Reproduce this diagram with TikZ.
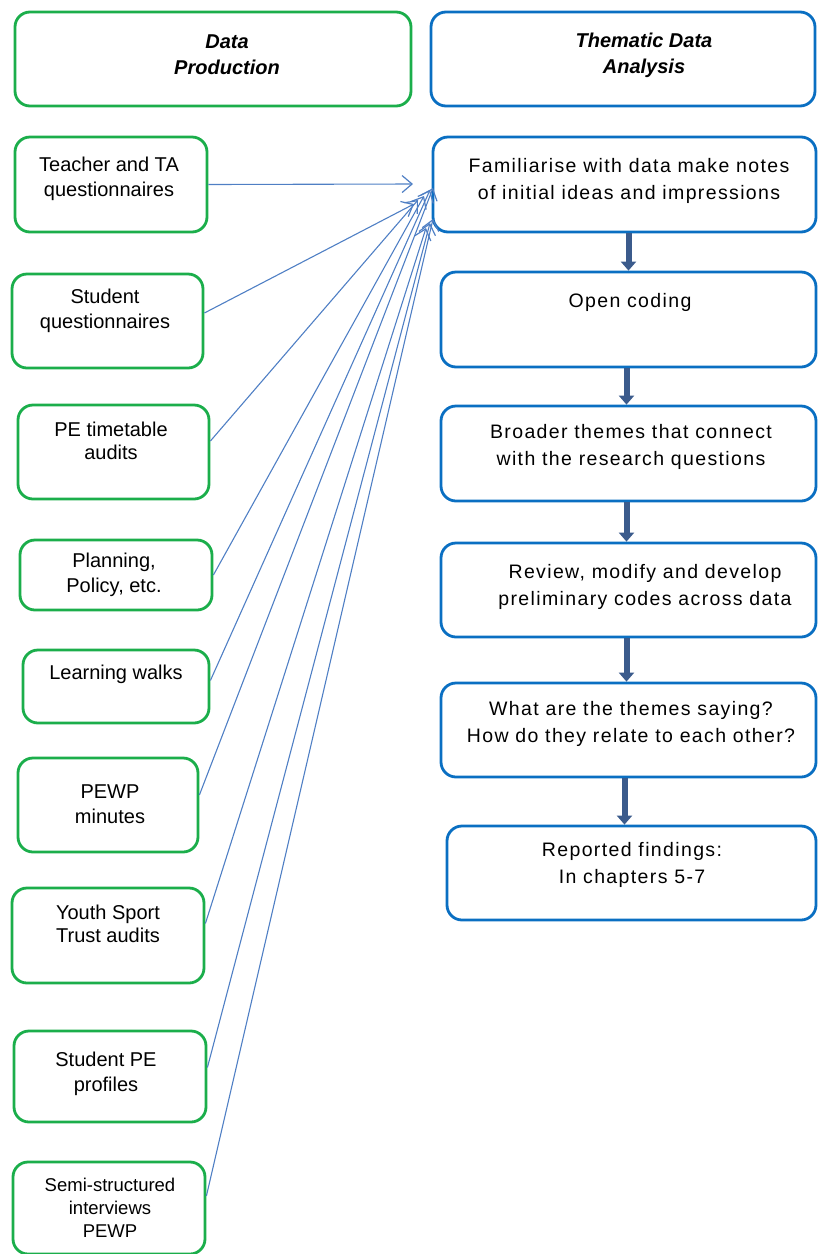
\documentclass[tikz,border=0pt]{standalone}
\usepackage{fontspec}
\setmainfont{Liberation Sans}
\newfontfamily\spacedfont[LetterSpace=7]{Liberation Sans}
\usetikzlibrary{arrows.meta}
\definecolor{srcgreen}{HTML}{1BAE4B}
\definecolor{stepblue}{HTML}{0A6FC2}
\definecolor{linkblue}{HTML}{4F7FC4}
\definecolor{flowblue}{HTML}{3B5B8C}
\begin{document}
\begin{tikzpicture}[x=1pt,y=-1pt,
  gbox/.style={draw=srcgreen,line width=2.8pt,rounded corners=15pt,inner sep=0pt,fill=white},
  bbox/.style={draw=stepblue,line width=2.8pt,rounded corners=15pt,inner sep=0pt,fill=white},
  srctext/.style={align=center,font=\fontsize{20}{25}\selectfont,inner sep=0pt},
  steptext/.style={align=center,font=\spacedfont\fontsize{19.5}{27}\selectfont,inner sep=0pt},
  headtext/.style={align=center,font=\bfseries\itshape\fontsize{20}{26}\selectfont,inner sep=0pt},
  link/.style={draw=linkblue,line width=1.1pt,-{Straight Barb[length=10pt,width=17pt,line width=1.2pt]}},
  flow/.style={draw=flowblue,line width=6pt,-{Triangle[length=9pt,width=15pt]}}]
\useasboundingbox (0,0) rectangle (818,1254);

% column headers
\node[gbox,minimum width=396pt,minimum height=94pt] (hdata) at (213,59) {};
\node[headtext] (hdatat) at (227,55) {Data\\Production};
\node[bbox,minimum width=384pt,minimum height=94pt] (hthem) at (623,59) {};
\node[headtext] (hthemt) at (644,55) {Thematic Data\\Analysis};

% data sources
\node[gbox,minimum width=192pt,minimum height=95pt] (s1) at (111,184.5) {};
\node[srctext] (s1t) at (109,179) {Teacher and TA\\questionnaires};
\node[gbox,minimum width=191pt,minimum height=94pt] (s2) at (107.5,321) {};
\node[srctext] (s2t) at (105,311) {Student\\questionnaires};
\node[gbox,minimum width=191pt,minimum height=94pt] (s3) at (113.5,452) {};
\node[srctext,font=\fontsize{20}{23}\selectfont] (s3t) at (111,441) {PE timetable\\audits};
\node[gbox,minimum width=192pt,minimum height=70pt] (s4) at (116,575) {};
\node[srctext] (s4t) at (114,575) {Planning,\\Policy, etc.};
\node[gbox,minimum width=186pt,minimum height=73pt] (s5) at (116,686.5) {};
\node[srctext] (s5t) at (116,674) {Learning walks};
\node[gbox,minimum width=180pt,minimum height=94pt] (s6) at (108,805) {};
\node[srctext] (s6t) at (110,804) {PEWP\\minutes};
\node[gbox,minimum width=192pt,minimum height=95pt] (s7) at (108,935.5) {};
\node[srctext,font=\fontsize{20}{23}\selectfont] (s7t) at (108,924) {Youth Sport\\Trust audits};
\node[gbox,minimum width=192pt,minimum height=91pt] (s8) at (110,1076.5) {};
\node[srctext] (s8t) at (106,1074) {Student PE\\profiles};
\node[gbox,minimum width=192pt,minimum height=92pt] (s9) at (109,1208) {};
\node[srctext,font=\fontsize{18.5}{23}\selectfont] (s9t) at (110,1208) {Semi-structured\\interviews\\PEWP};

% analysis steps
\node[bbox,minimum width=383pt,minimum height=95pt] (a1) at (624.5,184.5) {};
\node[steptext] (a1t) at (629,181) {Familiarise with data make notes\\of initial ideas and impressions};
\node[bbox,minimum width=375pt,minimum height=95pt] (a2) at (628.5,319.5) {};
\node[steptext] (a2t) at (630,302) {Open coding};
\node[bbox,minimum width=375pt,minimum height=95pt] (a3) at (628.5,453.5) {};
\node[steptext] (a3t) at (631,447) {Broader themes that connect\\with the research questions};
\node[bbox,minimum width=375pt,minimum height=94pt] (a4) at (628.5,590) {};
\node[steptext] (a4t) at (645,587) {Review, modify and develop\\preliminary codes across data};
\node[bbox,minimum width=375pt,minimum height=94pt] (a5) at (628.5,730) {};
\node[steptext] (a5t) at (631,724) {What are the themes saying?\\How do they relate to each other?};
\node[bbox,minimum width=369pt,minimum height=94pt] (a6) at (631.5,873) {};
\node[steptext] (a6t) at (632,865) {Reported findings:\\In chapters 5-7};

% end points of the source links along the first step
\coordinate (e1) at (413,184);
\coordinate (e2) at (414,204);
\coordinate (e3) at (418,200);
\coordinate (e4) at (424,196);
\coordinate (e5) at (430,190);
\coordinate (e6) at (433,188);
\coordinate (e7) at (426,228);
\coordinate (e8) at (430,223);
\coordinate (e9) at (433,219);

\draw[link] (s1.east) -- (e1);
\draw[link] ([yshift=8pt]s2.east) -- (e2);
\draw[link] ([yshift=11pt]s3.east) -- (e3);
\draw[link] (s4.east) -- (e4);
\draw[link] ([yshift=6pt]s5.east) -- (e5);
\draw[link] ([yshift=10pt]s6.east) -- (e6);
\draw[link] ([yshift=12pt]s7.east) -- (e7);
\draw[link] ([yshift=9pt]s8.east) -- (e8);
\draw[link] ([yshift=12pt]s9.east) -- (e9);

% flow between the analysis steps
\draw[flow] ([xshift=4pt]a1.south) -- ([xshift=4pt]a1.south |- a2.north);
\draw[flow] ([xshift=-2pt]a2.south) -- ([xshift=-2pt]a2.south |- a3.north);
\draw[flow] ([xshift=-2pt]a3.south) -- ([xshift=-2pt]a3.south |- a4.north);
\draw[flow] ([xshift=-2pt]a4.south) -- ([xshift=-2pt]a4.south |- a5.north);
\draw[flow] ([xshift=-4pt]a5.south) -- ([xshift=-4pt]a5.south |- a6.north);
\end{tikzpicture}
\end{document}
